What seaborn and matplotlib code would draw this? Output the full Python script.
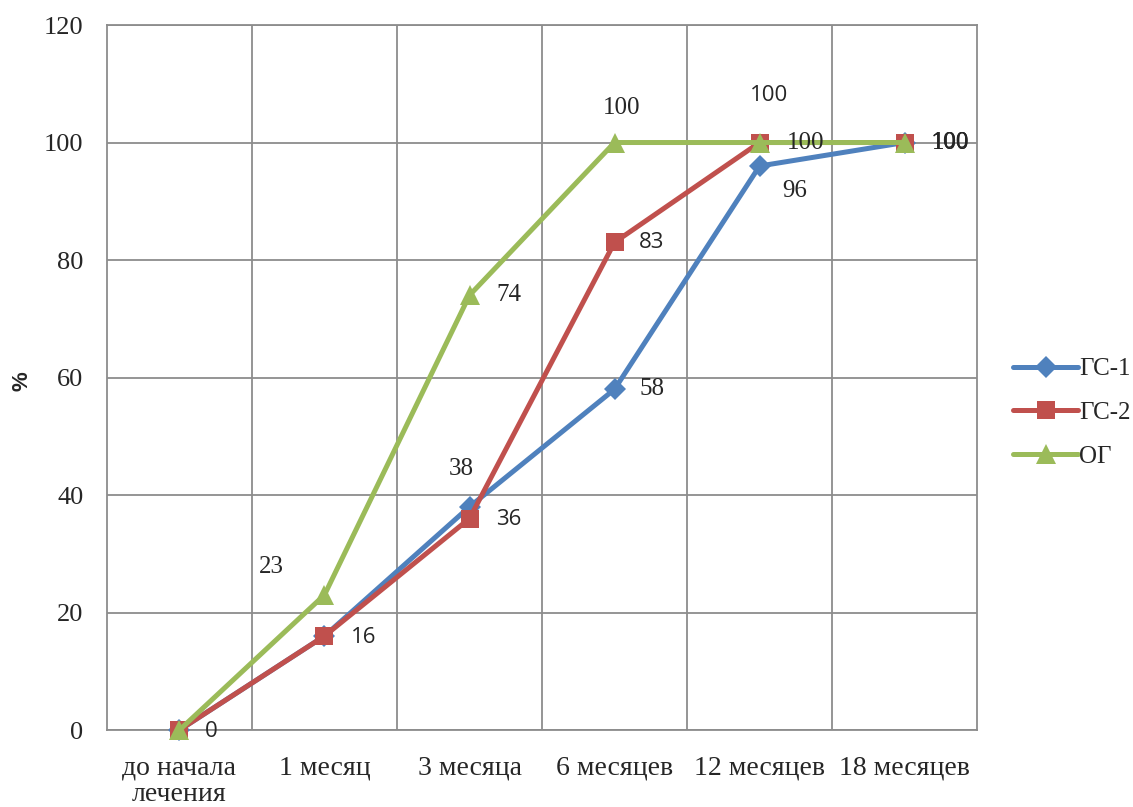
import matplotlib
matplotlib.use("Agg")
import matplotlib.pyplot as plt
import seaborn as sns
import numpy as np
import pandas as pd

categories = ["до начала\nлечения", "1 месяц", "3 месяца", "6 месяцев", "12 месяцев", "18 месяцев"]
gs1 = [0, 16, 38, 58, 96, 100]
gs2 = [0, 16, 36, 83, 100, 100]
og = [0, 23, 74, 100, 100, 100]
series_names = ["ГС-1", "ГС-2", "ОГ"]

sns.set_theme(style="white")
plt.rcParams["font.family"] = ["Liberation Serif", "DejaVu Serif"]

fig = plt.figure(figsize=(11.33, 8.07), dpi=100)
ax = fig.add_axes([0.0944, 0.0954, 0.768, 0.8736])

pos = np.arange(len(categories))
df = pd.DataFrame({
    "x": np.tile(pos, 3),
    "y": gs1 + gs2 + og,
    "series": np.repeat(series_names, len(categories)),
})

colors = {"ГС-1": "#4F81BD", "ГС-2": "#C0504D", "ОГ": "#9BBB59"}
markers = {"ГС-1": "D", "ГС-2": "s", "ОГ": "^"}
msizes = {"ГС-1": 11, "ГС-2": 13.5, "ОГ": 15}

for name in series_names:
    sub = df[df["series"] == name]
    sns.lineplot(data=sub, x="x", y="y", ax=ax, color=colors[name], lw=3.6,
                 marker=markers[name], markersize=msizes[name],
                 markeredgewidth=0, label=name, zorder=3, clip_on=False)

ax.set_xlim(-0.5, len(categories) - 0.5)
ax.set_ylim(0, 120)
ax.set_yticks(np.arange(0, 121, 20))
ax.set_xticks(pos)
ax.set_xticklabels(categories, fontsize=20, linespacing=1.08)
ax.set_xticks(np.arange(0.5, len(categories) - 1, 1.0), minor=True)
ax.tick_params(axis="y", labelsize=19, length=0, pad=17)
ax.tick_params(axis="x", which="both", length=0, pad=18)
ax.grid(False)
ax.grid(axis="y", which="major", color="#8c8c8c", lw=1.3)
ax.grid(axis="x", which="minor", color="#8c8c8c", lw=1.3)
for sp in ax.spines.values():
    sp.set_color("#8c8c8c")
    sp.set_linewidth(1.3)
ax.set_xlabel("")
ax.set_ylabel("%", fontsize=16, fontweight="bold", family=["Liberation Sans", "DejaVu Sans"])
ax.yaxis.set_label_coords(-0.085, 0.495)

serif = ["Liberation Serif", "DejaVu Serif"]
sans = ["Open Sans", "DejaVu Sans"]

def label(x, y, text, dx, dy, fam, size=18):
    ax.annotate(text, (x, y), xytext=(dx, dy), textcoords="offset points",
                ha="center", va="center", fontsize=size, family=fam, zorder=5,
                annotation_clip=False)

# ОГ labels
og_off = [None, (-38, 20), (28, 0), (5, 25), (33, 0), (33, 0)]
for i, v in enumerate(og):
    if og_off[i] is not None:
        label(pos[i], v, str(v), *og_off[i], serif)
# ГС-1 labels
gs1_off = [None, None, (-6, 27), (27, 0), (25, -18), (33, 0)]
for i, v in enumerate(gs1):
    if gs1_off[i] is not None:
        label(pos[i], v, str(v), *gs1_off[i], serif)
# ГС-2 labels
gs2_off = [(23, -1), (28, -1), (28, -1), (27, 0), (7, 34), (33, 0)]
for i, v in enumerate(gs2):
    if gs2_off[i] is not None:
        label(pos[i], v, str(v), *gs2_off[i], sans, size=16)

leg = ax.legend(loc="center left", bbox_to_anchor=(1.03, 0.45), frameon=False,
                fontsize=18, handlelength=2.6, handletextpad=0.05,
                labelspacing=0.85, borderaxespad=0)
for h in leg.get_lines():
    h.set_linewidth(3.6)

fig.savefig("out.png", dpi=100)
